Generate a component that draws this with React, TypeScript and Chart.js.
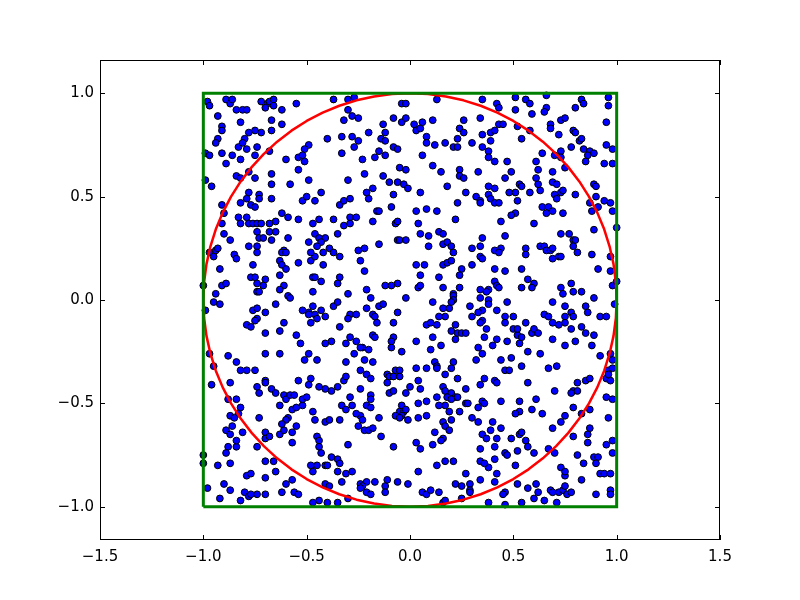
import React, { useEffect, useRef } from "react";
import { Chart, registerables } from "chart.js";

Chart.register(...registerables);

const xTicks = [-1.5, -1.0, -0.5, 0.0, 0.5, 1.0, 1.5];
const yTicks = [-1.0, -0.5, 0.0, 0.5, 1.0];
const xRange = [-1.5, 1.5];
const yRange = [-1.161, 1.161];

const squareX = [-1, 1, 1, -1, -1];
const squareY = [-1, -1, 1, 1, -1];

const circleX = [1,0.9962,0.9848,0.9659,0.9397,0.9063,0.866,0.8192,0.766,0.7071,0.6428,0.5736,0.5,0.4226,0.342,0.2588,0.1736,0.0872,0,
  -0.0872,-0.1736,-0.2588,-0.342,-0.4226,-0.5,-0.5736,-0.6428,-0.7071,-0.766,-0.8192,-0.866,-0.9063,-0.9397,-0.9659,-0.9848,-0.9962,-1,
  -0.9962,-0.9848,-0.9659,-0.9397,-0.9063,-0.866,-0.8192,-0.766,-0.7071,-0.6428,-0.5736,-0.5,-0.4226,-0.342,-0.2588,-0.1736,-0.0872,0,
  0.0872,0.1736,0.2588,0.342,0.4226,0.5,0.5736,0.6428,0.7071,0.766,0.8192,0.866,0.9063,0.9397,0.9659,0.9848,0.9962,1];
const circleY = [0,0.0872,0.1736,0.2588,0.342,0.4226,0.5,0.5736,0.6428,0.7071,0.766,0.8192,0.866,0.9063,0.9397,0.9659,0.9848,0.9962,1,
  0.9962,0.9848,0.9659,0.9397,0.9063,0.866,0.8192,0.766,0.7071,0.6428,0.5736,0.5,0.4226,0.342,0.2588,0.1736,0.0872,0,
  -0.0872,-0.1736,-0.2588,-0.342,-0.4226,-0.5,-0.5736,-0.6428,-0.7071,-0.766,-0.8192,-0.866,-0.9063,-0.9397,-0.9659,-0.9848,-0.9962,-1,
  -0.9962,-0.9848,-0.9659,-0.9397,-0.9063,-0.866,-0.8192,-0.766,-0.7071,-0.6428,-0.5736,-0.5,-0.4226,-0.342,-0.2588,-0.1736,-0.0872,0];

const regionTopLeft = [[-0.98,0.96],[-0.97,0.94],[-0.89,0.97],[-0.87,0.95],[-0.86,0.97],[-0.72,0.96],[-0.69,0.95],[-0.68,0.96],[-0.66,0.97],[-0.66,0.94],[-0.70,0.93],[-0.55,0.95],[-0.37,0.97],[-0.84,0.92],[-0.81,0.92],[-0.79,0.92],[-0.62,0.92],[-0.93,0.89],[-0.82,0.86],[-0.67,0.87],[-0.62,0.85],[-0.91,0.84],[-0.91,0.82],[-0.78,0.81],[-0.75,0.82],[-0.72,0.81],[-0.67,0.82],[-0.80,0.78],[-0.93,0.78],[-0.94,0.76],[-0.83,0.74],[-0.81,0.76],[-0.79,0.73],[-0.74,0.74],[-0.40,0.78],[-0.49,0.75],[-0.51,0.73],[-0.99,0.71],[-0.97,0.70],[-0.91,0.71],[-0.86,0.70],[-0.82,0.68],[-0.75,0.70],[-0.68,0.72],[-0.60,0.68],[-0.54,0.69],[-0.52,0.70],[-0.51,0.67],[-0.89,0.66],[-0.78,0.62],[-0.99,0.58],[-0.96,0.55],[-0.84,0.60],[-0.82,0.59],[-0.75,0.59],[-0.67,0.61],[-0.67,0.56],[-0.58,0.56],[-0.54,0.63],[-0.49,0.58],[-0.78,0.52],[-0.73,0.51],[-0.79,0.49],[-0.82,0.47],[-0.77,0.46],[-0.75,0.45],[-0.73,0.49],[-0.67,0.49],[-0.52,0.48],[-0.50,0.50],[-0.46,0.48],[-0.43,0.52],[-0.91,0.46],[-0.90,0.42],[-0.62,0.42],[-0.59,0.40],[-0.54,0.39],[-0.83,0.40],[-0.79,0.40],[-0.82,0.37],[-0.78,0.37],[-0.76,0.37],[-0.74,0.37],[-0.72,0.37],[-0.68,0.37],[-0.65,0.38],[-0.47,0.37],[-0.44,0.39],[-0.37,0.39],[-0.91,0.37]];

const regionTopMid = [[-0.30,0.97],[-0.27,0.98],[-0.30,0.92],[-0.28,0.89],[-0.25,0.88],[-0.32,0.87],[-0.04,0.95],[-0.02,0.95],[0.13,0.97],[-0.13,0.85],[-0.08,0.88],[-0.04,0.86],[-0.02,0.88],[0.02,0.85],[0.03,0.82],[0.05,0.83],[0.06,0.86],[0.11,0.87],[0.26,0.87],[-0.12,0.81],[-0.20,0.81],[-0.33,0.79],[-0.28,0.79],[-0.25,0.77],[-0.27,0.74],[-0.14,0.78],[-0.12,0.77],[-0.08,0.74],[-0.06,0.73],[-0.33,0.71],[-0.23,0.68],[-0.17,0.69],[-0.15,0.72],[-0.12,0.70],[0.08,0.79],[0.08,0.76],[0.12,0.75],[0.17,0.76],[0.21,0.74],[0.23,0.74],[0.23,0.78],[0.24,0.83],[0.26,0.81],[0.30,0.76],[0.06,0.70],[-0.05,0.64],[-0.02,0.63],[0.11,0.65],[0.15,0.62],[0.24,0.63],[0.24,0.60],[0.26,0.59],[-0.30,0.58],[-0.22,0.61],[-0.13,0.60],[-0.10,0.57],[-0.06,0.57],[-0.03,0.56],[-0.01,0.54],[0.18,0.55],[-0.21,0.52],[-0.18,0.54],[-0.20,0.49],[-0.08,0.51],[0.05,0.52],[0.27,0.52],[0.32,0.50],[-0.34,0.46],[-0.32,0.48],[-0.29,0.49],[-0.09,0.45],[-0.16,0.43],[-0.15,0.43],[0.03,0.43],[0.08,0.44],[0.13,0.43],[0.23,0.47],[-0.29,0.40],[-0.26,0.40],[-0.18,0.38],[-0.07,0.37],[-0.06,0.38],[0.04,0.37],[0.22,0.39],[-0.29,0.37],[-0.32,0.36]];

const regionTopRight = [[0.35,0.97],[0.42,0.95],[0.43,0.93],[0.51,0.98],[0.56,0.97],[0.58,0.95],[0.66,0.99],[0.66,0.93],[0.65,0.91],[0.59,0.90],[0.51,0.92],[0.80,0.93],[0.83,0.97],[0.84,0.95],[0.96,0.98],[0.96,0.94],[0.34,0.88],[0.43,0.85],[0.45,0.85],[0.52,0.84],[0.58,0.82],[0.68,0.85],[0.68,0.83],[0.73,0.87],[0.75,0.88],[0.95,0.86],[0.35,0.80],[0.39,0.81],[0.41,0.82],[0.54,0.78],[0.72,0.80],[0.79,0.82],[0.80,0.81],[0.82,0.77],[0.83,0.78],[0.84,0.73],[0.87,0.72],[0.89,0.71],[0.86,0.70],[0.39,0.77],[0.35,0.74],[0.38,0.72],[0.78,0.74],[0.95,0.75],[0.98,0.73],[0.38,0.69],[0.41,0.67],[0.47,0.67],[0.64,0.71],[0.73,0.72],[0.70,0.70],[0.73,0.69],[0.61,0.67],[0.62,0.63],[0.85,0.67],[0.94,0.66],[0.98,0.66],[0.33,0.62],[0.49,0.62],[0.75,0.64],[0.61,0.59],[0.46,0.59],[0.69,0.62],[0.38,0.55],[0.41,0.54],[0.53,0.56],[0.54,0.55],[0.62,0.56],[0.63,0.53],[0.69,0.57],[0.71,0.56],[0.89,0.56],[0.90,0.55],[0.38,0.51],[0.39,0.49],[0.34,0.48],[0.34,0.47],[0.41,0.47],[0.43,0.47],[0.48,0.52],[0.51,0.52],[0.52,0.48],[0.58,0.52],[0.70,0.51],[0.71,0.49],[0.73,0.52],[0.74,0.53],[0.80,0.51],[0.90,0.50],[0.94,0.48],[0.97,0.47],[0.98,0.43],[0.87,0.47],[0.88,0.43],[0.91,0.45],[0.64,0.45],[0.67,0.45],[0.66,0.42],[0.69,0.43],[0.74,0.42],[0.51,0.42],[0.49,0.41],[0.44,0.38],[0.60,0.37]];

const regionMidLeft = [[-0.90,0.32],[-0.87,0.29],[-0.74,0.33],[-0.68,0.33],[-0.65,0.33],[-0.73,0.30],[-0.71,0.30],[-0.67,0.29],[-0.59,0.30],[-0.46,0.32],[-0.44,0.30],[-0.41,0.30],[-0.43,0.28],[-0.49,0.28],[-0.45,0.26],[-0.39,0.25],[-0.37,0.23],[-0.97,0.23],[-0.95,0.21],[-0.94,0.24],[-0.93,0.25],[-0.85,0.22],[-0.84,0.20],[-0.78,0.26],[-0.74,0.26],[-0.74,0.23],[-0.61,0.24],[-0.62,0.23],[-0.60,0.23],[-0.63,0.19],[-0.62,0.17],[-0.60,0.15],[-0.54,0.18],[-0.48,0.19],[-0.46,0.21],[-0.48,0.23],[-0.42,0.23],[-0.42,0.17],[-0.92,0.15],[-0.76,0.17],[-0.77,0.11],[-0.75,0.11],[-0.70,0.10],[-0.74,0.08],[-0.71,0.07],[-0.63,0.12],[-0.61,0.07],[-0.63,0.05],[-0.47,0.11],[-0.46,0.11],[-0.43,0.09],[-0.91,0.07],[-0.89,0.08],[-1.00,0.07],[-0.94,0.03],[-0.74,0.04],[-0.73,0.04],[-0.95,-0.01],[-0.92,-0.02],[-0.99,-0.05],[-0.76,-0.05],[-0.74,-0.04],[-0.70,-0.06],[-0.74,-0.09],[-0.75,-0.10],[-0.65,-0.02],[-0.59,0.02],[-0.58,0.01],[-0.47,0.04],[-0.61,-0.11],[-0.79,-0.12],[-0.77,-0.13],[-0.70,-0.16],[-0.63,-0.15],[-0.52,-0.05],[-0.49,-0.06],[-0.47,-0.03],[-0.49,-0.07],[-0.46,-0.07],[-0.45,-0.09],[-0.43,-0.05],[-0.41,-0.08],[-0.48,-0.11],[-0.37,-0.03],[-0.55,-0.17],[-0.53,-0.21],[-0.41,-0.21],[-0.38,-0.20],[-0.97,-0.26],[-0.88,-0.27],[-0.84,-0.30],[-0.70,-0.26],[-0.63,-0.26],[-0.51,-0.29],[-0.49,-0.26],[-0.45,-0.29],[-0.95,-0.32]];

const regionCenter = [[-0.35,0.32],[-0.15,0.27],[-0.06,0.29],[-0.05,0.29],[-0.02,0.29],[0.05,0.32],[0.09,0.31],[0.09,0.26],[0.14,0.33],[0.16,0.32],[0.16,0.27],[0.18,0.28],[0.20,0.26],[0.21,0.23],[0.30,0.25],[-0.25,0.24],[-0.22,0.25],[-0.24,0.19],[-0.34,0.21],[-0.22,0.14],[0.03,0.17],[0.07,0.17],[0.16,0.17],[0.18,0.18],[0.20,0.19],[0.25,0.15],[0.24,0.12],[0.30,0.17],[-0.34,0.11],[-0.35,0.08],[-0.12,0.07],[-0.09,0.07],[-0.06,0.08],[-0.21,0.05],[0.05,0.12],[0.04,0.06],[0.05,0.07],[0.14,0.11],[0.16,0.06],[0.21,0.03],[0.24,0.06],[0.21,0.02],[0.21,0.00],[0.20,-0.01],[-0.30,0.03],[-0.19,0.01],[-0.02,0.01],[-0.35,-0.01],[-0.15,-0.03],[-0.13,-0.02],[-0.21,-0.04],[-0.29,-0.07],[-0.26,-0.07],[-0.30,-0.09],[-0.18,-0.07],[-0.17,-0.08],[-0.06,-0.06],[0.11,-0.01],[0.16,-0.04],[0.19,-0.04],[0.14,-0.08],[0.17,-0.08],[0.29,-0.03],[-0.16,-0.11],[-0.08,-0.11],[0.08,-0.12],[0.10,-0.11],[0.13,-0.12],[0.22,-0.12],[0.20,-0.15],[0.23,-0.16],[0.25,-0.16],[0.27,-0.16],[0.22,-0.19],[0.30,-0.08],[-0.34,-0.13],[-0.29,-0.18],[-0.26,-0.20],[-0.23,-0.23],[-0.18,-0.17],[-0.17,-0.18],[-0.08,-0.18],[-0.09,-0.20],[-0.09,-0.23],[0.03,-0.20],[0.11,-0.18],[0.15,-0.22],[0.32,-0.29],[-0.31,-0.21],[-0.27,-0.26],[-0.24,-0.23],[-0.20,-0.24],[-0.22,-0.29],[-0.18,-0.30],[-0.31,-0.30],[-0.04,-0.25],[0.10,-0.24],[0.12,-0.30],[0.13,-0.32],[0.21,-0.30]];

const regionMidRight = [[0.35,0.30],[0.34,0.26],[0.34,0.21],[0.35,0.20],[0.41,0.24],[0.44,0.25],[0.43,0.23],[0.46,0.31],[0.56,0.25],[0.56,0.22],[0.63,0.26],[0.65,0.26],[0.66,0.24],[0.68,0.24],[0.69,0.25],[0.69,0.20],[0.72,0.21],[0.73,0.21],[0.73,0.32],[0.77,0.32],[0.79,0.29],[0.80,0.29],[0.79,0.26],[0.81,0.23],[0.88,0.22],[0.89,0.34],[0.91,0.15],[0.97,0.21],[0.97,0.14],[0.41,0.15],[0.46,0.14],[0.54,0.15],[0.57,0.10],[0.60,0.08],[0.59,0.06],[0.54,0.06],[0.41,0.09],[0.42,0.07],[0.43,0.06],[0.38,0.05],[0.37,0.04],[0.34,0.05],[0.34,0.01],[0.38,0.00],[0.38,-0.02],[0.35,-0.05],[0.33,-0.06],[0.42,-0.05],[0.47,-0.01],[0.46,-0.08],[0.46,-0.11],[0.50,-0.08],[0.35,-0.10],[0.34,-0.11],[0.37,-0.14],[0.36,-0.18],[0.40,-0.22],[0.42,-0.19],[0.47,-0.20],[0.33,-0.23],[0.35,-0.26],[0.50,-0.14],[0.52,-0.17],[0.53,-0.21],[0.56,-0.11],[0.52,-0.14],[0.54,-0.18],[0.59,-0.16],[0.60,-0.14],[0.62,-0.16],[0.57,-0.25],[0.63,-0.26],[0.69,-0.01],[0.65,-0.07],[0.67,-0.08],[0.75,-0.03],[0.75,-0.08],[0.78,-0.06],[0.79,-0.08],[0.73,0.06],[0.74,0.03],[0.78,0.08],[0.79,0.04],[0.83,0.04],[0.89,0.01],[0.85,-0.03],[0.86,-0.06],[0.69,-0.11],[0.72,-0.12],[0.75,-0.11],[0.78,-0.14],[0.69,-0.19],[0.75,-0.22],[0.80,-0.20],[0.83,-0.13],[0.85,-0.16],[0.89,-0.17],[0.88,-0.22],[0.92,-0.08],[0.95,-0.08],[0.99,-0.02],[0.98,0.07],[0.92,-0.27],[0.97,-0.26],[0.98,-0.29],[0.44,-0.29],[0.49,-0.28],[0.54,-0.32],[1.00,0.35],[1.00,0.09]];

const regionBottomLeft = [[-0.82,-0.34],[-0.79,-0.34],[-0.75,-0.34],[-0.96,-0.41],[-0.87,-0.40],[-0.74,-0.42],[-0.73,-0.45],[-0.70,-0.39],[-0.70,-0.40],[-0.67,-0.43],[-0.65,-0.45],[-0.61,-0.46],[-0.60,-0.48],[-0.58,-0.46],[-0.56,-0.46],[-0.54,-0.39],[-0.49,-0.41],[-0.48,-0.38],[-0.44,-0.42],[-0.41,-0.43],[-0.38,-0.44],[-0.88,-0.48],[-0.84,-0.48],[-0.82,-0.52],[-0.83,-0.55],[-0.87,-0.56],[-0.85,-0.57],[-0.73,-0.57],[-0.63,-0.51],[-0.57,-0.53],[-0.55,-0.52],[-0.52,-0.51],[-0.52,-0.48],[-0.50,-0.47],[-0.47,-0.54],[-0.59,-0.57],[-0.60,-0.58],[-0.46,-0.58],[-0.41,-0.59],[-0.39,-0.58],[-0.89,-0.63],[-0.86,-0.61],[-0.87,-0.65],[-0.81,-0.64],[-0.70,-0.64],[-0.70,-0.67],[-0.68,-0.66],[-0.63,-0.65],[-0.61,-0.63],[-0.57,-0.64],[-0.57,-0.69],[-0.74,-0.71],[-0.88,-0.71],[-0.89,-0.74],[-0.84,-0.71],[-0.84,-0.68],[-0.62,-0.60],[-0.55,-0.61],[-0.45,-0.66],[-0.44,-0.68],[-0.44,-0.71],[-0.43,-0.74],[-0.38,-0.76],[-0.41,-0.80],[-0.48,-0.80],[-0.45,-0.80],[-0.47,-0.83],[-0.40,-0.80],[-0.70,-0.78],[-0.66,-0.78],[-0.65,-0.83],[-0.93,-0.80],[-0.87,-0.79],[-1.00,-0.75],[-1.00,-0.79],[-0.79,-0.85],[-0.77,-0.84],[-0.70,-0.86],[-0.57,-0.87],[-0.60,-0.89],[-0.41,-0.89],[-0.39,-0.90],[-0.98,-0.91],[-0.90,-0.89],[-0.87,-0.92],[-0.80,-0.93],[-0.78,-0.95],[-0.82,-0.97],[-0.77,-0.94],[-0.74,-0.94],[-0.70,-0.94],[-0.62,-0.93],[-0.56,-0.93],[-0.54,-0.94],[-0.92,-0.96],[-0.47,-0.98],[-0.44,-0.97],[-0.40,-0.98]];

const regionBottomMid = [[-0.24,-0.34],[-0.21,-0.36],[-0.19,-0.38],[-0.32,-0.39],[-0.31,-0.37],[-0.11,-0.36],[-0.10,-0.37],[-0.07,-0.34],[-0.05,-0.34],[-0.08,-0.37],[-0.05,-0.37],[-0.11,-0.40],[0.03,-0.33],[0.08,-0.33],[0.13,-0.33],[0.17,-0.36],[0.20,-0.33],[0.23,-0.38],[0.04,-0.39],[0.00,-0.42],[0.05,-0.43],[-0.02,-0.45],[-0.10,-0.45],[-0.08,-0.44],[-0.35,-0.42],[-0.24,-0.43],[-0.19,-0.46],[-0.19,-0.48],[-0.29,-0.47],[0.16,-0.42],[0.17,-0.44],[0.20,-0.45],[0.18,-0.47],[0.22,-0.47],[0.27,-0.43],[0.13,-0.47],[0.20,-0.48],[0.08,-0.49],[0.04,-0.50],[-0.04,-0.51],[-0.33,-0.51],[-0.31,-0.53],[-0.28,-0.51],[-0.21,-0.51],[-0.19,-0.52],[-0.05,-0.54],[-0.03,-0.54],[-0.02,-0.53],[-0.04,-0.56],[-0.07,-0.56],[-0.05,-0.57],[-0.01,-0.58],[-0.15,-0.57],[-0.24,-0.56],[-0.26,-0.55],[-0.34,-0.58],[-0.23,-0.58],[-0.25,-0.61],[-0.22,-0.63],[-0.20,-0.63],[-0.18,-0.62],[-0.14,-0.66],[0.04,-0.57],[0.08,-0.56],[0.14,-0.51],[0.17,-0.51],[0.19,-0.54],[0.23,-0.47],[0.24,-0.54],[0.27,-0.50],[0.28,-0.50],[0.30,-0.57],[0.16,-0.59],[0.17,-0.61],[0.19,-0.63],[0.20,-0.58],[0.12,-0.64],[0.16,-0.67],[0.15,-0.68],[0.11,-0.70],[0.03,-0.69],[0.05,-0.72],[-0.08,-0.71],[-0.30,-0.70],[-0.35,-0.77],[-0.34,-0.79],[-0.35,-0.83],[-0.31,-0.84],[-0.28,-0.83],[-0.33,-0.88],[-0.24,-0.89],[-0.21,-0.88],[-0.17,-0.88],[-0.23,-0.90],[-0.24,-0.91],[-0.12,-0.90],[-0.11,-0.87],[-0.12,-0.93],[-0.06,-0.88],[-0.01,-0.89],[0.04,-0.83],[0.13,-0.80],[0.17,-0.78],[0.21,-0.78],[0.27,-0.84],[0.22,-0.89],[0.25,-0.90],[0.29,-0.89],[0.29,-0.92],[0.29,-0.93],[0.14,-0.93],[0.06,-0.93],[0.08,-0.94],[0.10,-0.92],[-0.21,-0.93],[-0.19,-0.94],[-0.30,-0.96],[-0.35,-0.98],[0.16,-0.98],[0.17,-0.97],[0.25,-0.96]];

const regionBottomRight = [[0.46,-0.34],[0.48,-0.34],[0.67,-0.33],[0.71,-0.32],[0.36,-0.38],[0.34,-0.41],[0.41,-0.39],[0.42,-0.40],[0.57,-0.40],[0.70,-0.44],[0.79,-0.44],[0.81,-0.44],[0.78,-0.45],[0.81,-0.40],[0.85,-0.39],[0.87,-0.38],[0.95,-0.38],[0.97,-0.39],[0.96,-0.34],[0.96,-0.36],[0.98,-0.33],[0.35,-0.49],[0.36,-0.50],[0.44,-0.49],[0.53,-0.49],[0.61,-0.48],[0.53,-0.54],[0.51,-0.55],[0.59,-0.53],[0.64,-0.55],[0.33,-0.52],[0.40,-0.59],[0.44,-0.62],[0.39,-0.63],[0.35,-0.65],[0.37,-0.67],[0.42,-0.67],[0.49,-0.67],[0.53,-0.65],[0.54,-0.64],[0.56,-0.68],[0.57,-0.71],[0.60,-0.74],[0.67,-0.72],[0.70,-0.74],[0.73,-0.59],[0.75,-0.56],[0.79,-0.52],[0.83,-0.55],[0.87,-0.53],[0.95,-0.47],[0.98,-0.48],[0.96,-0.57],[0.87,-0.62],[0.86,-0.65],[0.79,-0.66],[0.69,-0.62],[0.33,-0.59],[0.34,-0.72],[0.41,-0.71],[0.46,-0.74],[0.47,-0.75],[0.52,-0.73],[0.34,-0.78],[0.38,-0.81],[0.41,-0.77],[0.36,-0.79],[0.42,-0.84],[0.41,-0.88],[0.34,-0.87],[0.51,-0.80],[0.52,-0.89],[0.57,-0.91],[0.61,-0.89],[0.62,-0.93],[0.60,-0.96],[0.65,-0.97],[0.46,-0.93],[0.45,-0.94],[0.38,-0.98],[0.46,-0.99],[0.54,-0.98],[0.71,-0.98],[0.68,-0.92],[0.69,-0.93],[0.72,-0.93],[0.74,-0.92],[0.75,-0.90],[0.76,-0.94],[0.78,-0.93],[0.75,-0.85],[0.73,-0.81],[0.75,-0.83],[0.83,-0.87],[0.81,-0.75],[0.84,-0.79],[0.89,-0.76],[0.91,-0.76],[0.90,-0.79],[0.92,-0.84],[0.94,-0.84],[0.97,-0.84],[0.95,-0.70],[0.98,-0.74],[0.98,-0.68],[0.86,-0.69],[0.90,-0.94],[0.97,-0.92],[0.97,-0.94]];

const allRegions = [regionTopLeft, regionTopMid, regionTopRight, regionMidLeft, regionCenter, regionMidRight, regionBottomLeft, regionBottomMid, regionBottomRight];

const fmt = (v: number) => Number(v).toFixed(1).replace("-", "\u2212");

const frameAndTicks = {
  id: "frameAndTicks",
  afterDatasetsDraw(chart: any) {
    const { ctx, chartArea: a, scales } = chart;
    const L = 5;
    ctx.save();
    ctx.strokeStyle = "#000";
    ctx.lineWidth = 1;
    ctx.beginPath();
    for (const v of xTicks) {
      const px = Math.round(scales.x.getPixelForValue(v)) + 0.5;
      ctx.moveTo(px, a.bottom);
      ctx.lineTo(px, a.bottom - L);
      ctx.moveTo(px, a.top);
      ctx.lineTo(px, a.top + L);
    }
    for (const v of yTicks) {
      const py = Math.round(scales.y.getPixelForValue(v)) + 0.5;
      ctx.moveTo(a.left, py);
      ctx.lineTo(a.left + L, py);
      ctx.moveTo(a.right, py);
      ctx.lineTo(a.right - L, py);
    }
    ctx.stroke();
    ctx.strokeRect(a.left + 0.5, a.top + 0.5, a.right - a.left - 1, a.bottom - a.top - 1);
    ctx.restore();
  },
};

export default function App() {
  const ref = useRef<HTMLCanvasElement | null>(null);
  useEffect(() => {
    document.body.style.margin = "0";
    const canvas = ref.current;
    if (!canvas) return;
    const points = allRegions.flat().map(([x, y]) => ({ x, y }));
    const square = squareX.map((x, i) => ({ x, y: squareY[i] }));
    const circle = circleX.map((x, i) => ({ x, y: circleY[i] }));
    const chart = new Chart(canvas, {
      type: "scatter",
      data: {
        datasets: [
          {
            label: "square",
            data: square,
            showLine: true,
            borderColor: "#008000",
            borderWidth: 3,
            pointRadius: 0,
            borderJoinStyle: "miter",
            borderCapStyle: "butt",
            order: 0,
          } as any,
          {
            label: "circle",
            data: circle,
            showLine: true,
            borderColor: "#ff0000",
            borderWidth: 2.5,
            pointRadius: 0,
            tension: 0,
            borderJoinStyle: "round",
            order: 1,
          } as any,
          {
            label: "points",
            data: points,
            backgroundColor: "#0000ff",
            borderColor: "#000000",
            borderWidth: 1,
            pointRadius: 3.4,
            order: 2,
          },
        ],
      },
      options: {
        responsive: false,
        animation: false,
        devicePixelRatio: 1,
        layout: { padding: { left: 0, right: 80, top: 60, bottom: 0 } },
        plugins: { legend: { display: false }, tooltip: { enabled: false } },
        scales: {
          x: {
            type: "linear",
            min: xRange[0],
            max: xRange[1],
            grid: { display: false, drawTicks: false },
            border: { display: false },
            afterBuildTicks: (s: any) => { s.ticks = xTicks.map((v) => ({ value: v })); },
            afterFit: (s: any) => { s.height = 60; },
            ticks: {
              callback: (v: any) => fmt(v),
              color: "#000",
              padding: 8,
              maxRotation: 0,
              autoSkip: false,
              font: { family: "DejaVu Sans", size: 15 },
            },
          },
          y: {
            type: "linear",
            min: yRange[0],
            max: yRange[1],
            grid: { display: false, drawTicks: false },
            border: { display: false },
            afterBuildTicks: (s: any) => { s.ticks = yTicks.map((v) => ({ value: v })); },
            afterFit: (s: any) => { s.width = 100; },
            ticks: {
              callback: (v: any) => fmt(v),
              color: "#000",
              padding: 6,
              autoSkip: false,
              font: { family: "DejaVu Sans", size: 15 },
            },
          },
        },
      },
      plugins: [frameAndTicks],
    });
    return () => chart.destroy();
  }, []);
  return (
    <div style={{ width: 800, height: 600, background: "#fff" }}>
      <canvas ref={ref} width={800} height={600} style={{ display: "block" }} />
    </div>
  );
}
